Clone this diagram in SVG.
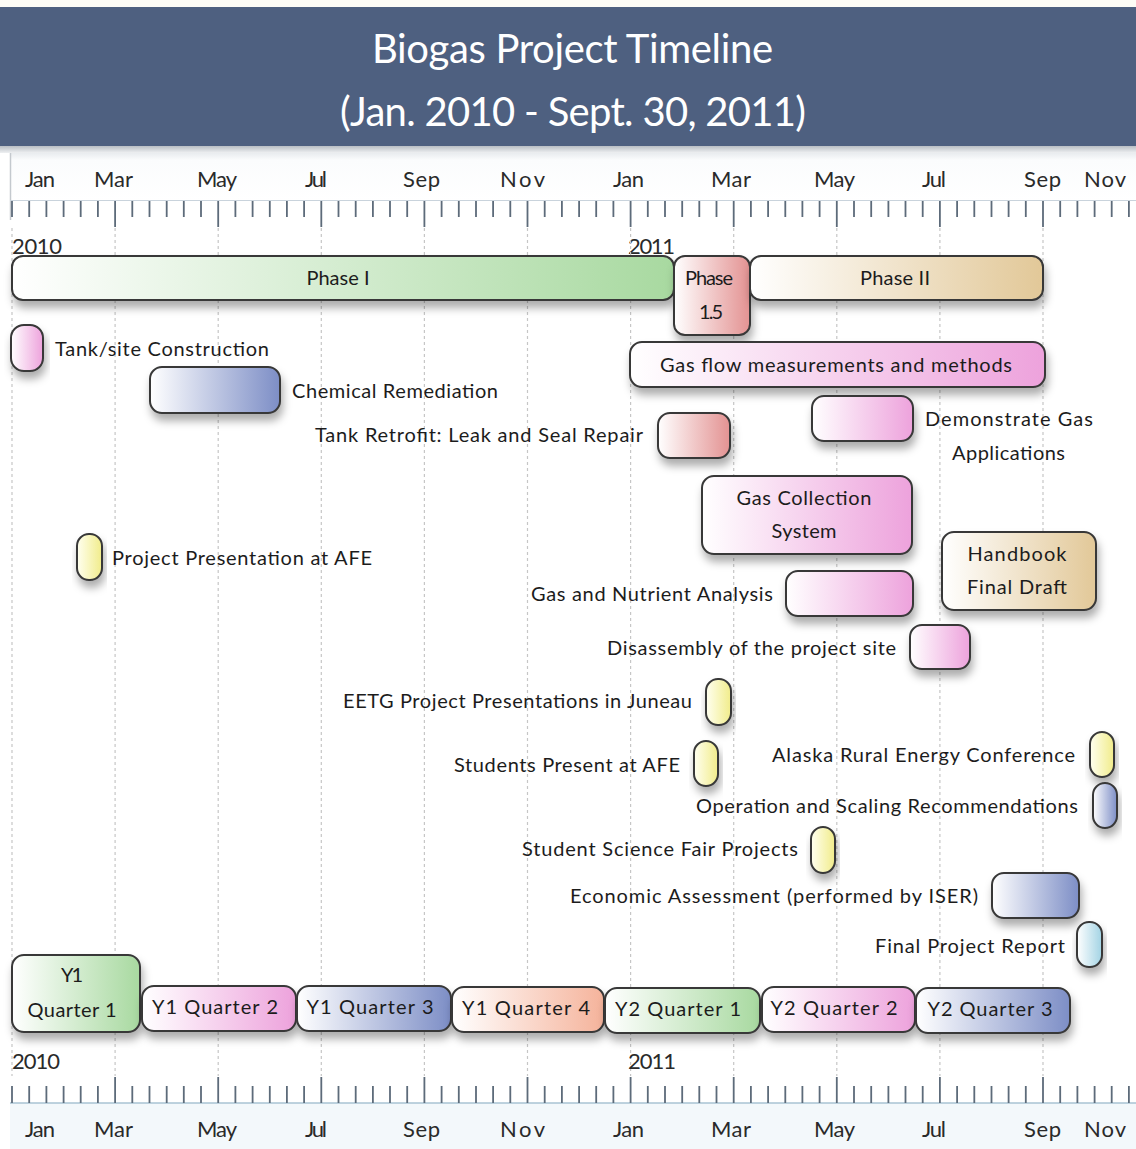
<svg xmlns="http://www.w3.org/2000/svg" width="1136" height="1149" viewBox="0 0 1136 1149">
<defs>
<style>
.t{font-family:"Lato","Open Sans","DejaVu Sans",sans-serif;fill:#1c1c1c}
.lbl{font-size:20px}
.mon{font-size:22px;fill:#2a2a2a}
.ttl{font-size:40px;fill:#ffffff}
.box{stroke:#383838;stroke-width:2;filter:url(#sh)}
.grid{stroke:#c6c6c6;stroke-width:1.2;stroke-dasharray:3 3;fill:none}
.tick{stroke:#5d6b7a;stroke-width:1.8;fill:none}
</style>
<filter id="sh" x="-20%" y="-30%" width="140%" height="190%">
<feDropShadow dx="2" dy="7" stdDeviation="4.5" flood-color="#000" flood-opacity="0.32"/>
</filter>
<linearGradient id="gGreen" x1="0" y1="0" x2="1" y2="0"><stop offset="0" stop-color="#fff"/><stop offset="1" stop-color="#a8d9a0"/></linearGradient>
<linearGradient id="gPink" x1="0" y1="0" x2="1" y2="0"><stop offset="0" stop-color="#fff"/><stop offset="1" stop-color="#eda2dc"/></linearGradient>
<linearGradient id="gBlue" x1="0" y1="0" x2="1" y2="0"><stop offset="0" stop-color="#fff"/><stop offset="1" stop-color="#7d8ec6"/></linearGradient>
<linearGradient id="gRed" x1="0" y1="0" x2="1" y2="0"><stop offset="0" stop-color="#fff"/><stop offset="1" stop-color="#e39292"/></linearGradient>
<linearGradient id="gTan" x1="0" y1="0" x2="1" y2="0"><stop offset="0" stop-color="#fff"/><stop offset="1" stop-color="#e2c898"/></linearGradient>
<linearGradient id="gYellow" x1="0" y1="0" x2="1" y2="0"><stop offset="0" stop-color="#fffff0"/><stop offset="1" stop-color="#f1ec8a"/></linearGradient>
<linearGradient id="gPeach" x1="0" y1="0" x2="1" y2="0"><stop offset="0" stop-color="#fff"/><stop offset="1" stop-color="#f5b39b"/></linearGradient>
<linearGradient id="gCyan" x1="0" y1="0" x2="1" y2="0"><stop offset="0" stop-color="#fff"/><stop offset="1" stop-color="#a2d3e4"/></linearGradient>
<linearGradient id="gTopBand" x1="0" y1="0" x2="0" y2="1"><stop offset="0" stop-color="#e9ecef"/><stop offset="0.15" stop-color="#fbfcfd"/><stop offset="1" stop-color="#ffffff"/></linearGradient>
<linearGradient id="gUnder" x1="0" y1="0" x2="0" y2="1"><stop offset="0" stop-color="#b9bec4"/><stop offset="1" stop-color="#eef0f2"/></linearGradient>
</defs>

<rect x="0" y="0" width="1136" height="1149" fill="#ffffff"/>

<g id="title">
<rect x="0" y="0" width="1136" height="7" fill="#fdfcf6"/>
<rect x="0" y="7" width="1136" height="139" fill="#4e6080"/>
<rect x="0" y="146" width="1136" height="7" fill="url(#gUnder)"/>
<text class="t ttl" x="372" y="63" textLength="401">Biogas Project Timeline</text>
<text class="t ttl" x="340" y="126" textLength="466">(Jan. 2010 - Sept. 30, 2011)</text>
</g>

<g id="top-ruler">
<rect x="10" y="153" width="1126" height="48" fill="url(#gTopBand)"/>
<line x1="10.5" y1="153" x2="10.5" y2="220" stroke="#c4c9ce" stroke-width="1.5"/>
<line x1="10" y1="200.5" x2="1136" y2="200.5" stroke="#c9d3dc" stroke-width="1"/>
<path class="tick" d="M12 201V217M29.2 201V217M46.4 201V217M63.6 201V217M80.7 201V217M97.9 201V217M115.1 201V227M132.3 201V217M149.5 201V217M166.7 201V217M183.8 201V217M201 201V217M218.2 201V227M235.4 201V217M252.6 201V217M269.8 201V217M286.9 201V217M304.1 201V217M321.3 201V227M338.5 201V217M355.7 201V217M372.9 201V217M390 201V217M407.2 201V217M424.4 201V227M441.6 201V217M458.8 201V217M476 201V217M493.1 201V217M510.3 201V217M527.5 201V227M544.7 201V217M561.9 201V217M579.1 201V217M596.2 201V217M613.4 201V217M630.6 201V227M647.8 201V217M665 201V217M682.2 201V217M699.3 201V217M716.5 201V217M733.7 201V227M750.9 201V217M768.1 201V217M785.3 201V217M802.4 201V217M819.6 201V217M836.8 201V227M854 201V217M871.2 201V217M888.4 201V217M905.5 201V217M922.7 201V217M939.9 201V227M957.1 201V217M974.3 201V217M991.5 201V217M1008.6 201V217M1025.8 201V217M1043 201V227M1060.2 201V217M1077.4 201V217M1094.6 201V217M1111.7 201V217M1128.9 201V217"/>
<text class="t mon" x="25" y="187" textLength="30">Jan</text>
<text class="t mon" x="94" y="187" textLength="39">Mar</text>
<text class="t mon" x="197" y="187" textLength="40">May</text>
<text class="t mon" x="305" y="187" textLength="22">Jul</text>
<text class="t mon" x="403" y="187" textLength="37">Sep</text>
<text class="t mon" x="500" y="187" textLength="45">Nov</text>
<text class="t mon" x="613" y="187" textLength="31">Jan</text>
<text class="t mon" x="711" y="187" textLength="40">Mar</text>
<text class="t mon" x="814" y="187" textLength="41">May</text>
<text class="t mon" x="922" y="187" textLength="24">Jul</text>
<text class="t mon" x="1024" y="187" textLength="37">Sep</text>
<text class="t mon" x="1084" y="187" textLength="42">Nov</text>
<text class="t mon" x="12" y="254" textLength="50">2010</text>
<text class="t mon" x="628" y="254" textLength="47">2011</text>
</g>

<g id="gridlines">
<path class="grid" d="M12 228V1076M115.1 228V1076M218.2 228V1076M321.3 228V1076M424.4 228V1076M527.5 228V1076M630.6 228V1076M733.7 228V1076M836.8 228V1076M939.9 228V1076M1043 228V1076"/>
</g>

<g id="connectors"></g>

<g id="phase-1">
<rect class="box" x="12" y="256" width="662" height="44" rx="11" fill="url(#gGreen)"/>
<text class="t lbl" x="338" y="285" text-anchor="middle" textLength="63">Phase I</text>
</g>
<g id="phase-1-5">
<rect class="box" x="674" y="256" width="76" height="79" rx="11" fill="url(#gRed)"/>
<text class="t lbl" x="709" y="285" text-anchor="middle" textLength="48">Phase</text>
<text class="t lbl" x="711" y="319" text-anchor="middle" textLength="24">1.5</text>
</g>
<g id="phase-2">
<rect class="box" x="750" y="256" width="293" height="44" rx="11" fill="url(#gTan)"/>
<text class="t lbl" x="895" y="285" text-anchor="middle" textLength="70">Phase II</text>
</g>

<g id="tank-site-construction">
<rect class="box" x="11" y="325" width="32" height="46" rx="13" fill="url(#gPink)"/>
<text class="t lbl" x="55" y="356" textLength="214">Tank/site Construction</text>
</g>
<g id="chemical-remediation">
<rect class="box" x="150" y="367" width="130" height="46" rx="12" fill="url(#gBlue)"/>
<text class="t lbl" x="292" y="398" textLength="206">Chemical Remediation</text>
</g>
<g id="gas-flow">
<rect class="box" x="630" y="342" width="415" height="45" rx="12" fill="url(#gPink)"/>
<text class="t lbl" x="836" y="372" text-anchor="middle" textLength="352">Gas flow measurements and methods</text>
</g>
<g id="tank-retrofit">
<rect class="box" x="658" y="413" width="72" height="45" rx="12" fill="url(#gRed)"/>
<text class="t lbl" x="643" y="442" text-anchor="end" textLength="328">Tank Retrofit: Leak and Seal Repair</text>
</g>
<g id="demonstrate-gas">
<rect class="box" x="812" y="396" width="101" height="45" rx="12" fill="url(#gPink)"/>
<text class="t lbl" x="925" y="426" textLength="168">Demonstrate Gas</text>
<text class="t lbl" x="952" y="460" textLength="113">Applications</text>
</g>
<g id="gas-collection">
<rect class="box" x="702" y="476" width="210" height="78" rx="12" fill="url(#gPink)"/>
<text class="t lbl" x="804" y="505" text-anchor="middle" textLength="135">Gas Collection</text>
<text class="t lbl" x="804" y="538" text-anchor="middle" textLength="65">System</text>
</g>
<g id="handbook">
<rect class="box" x="942" y="532" width="154" height="78" rx="12" fill="url(#gTan)"/>
<text class="t lbl" x="1017" y="561" text-anchor="middle" textLength="99">Handbook</text>
<text class="t lbl" x="1017" y="594" text-anchor="middle" textLength="100">Final Draft</text>
</g>
<g id="project-presentation-afe">
<rect class="box" x="77" y="534" width="25" height="46" rx="12" fill="url(#gYellow)"/>
<text class="t lbl" x="112" y="565" textLength="260">Project Presentation at AFE</text>
</g>
<g id="gas-nutrient-analysis">
<rect class="box" x="786" y="571" width="127" height="45" rx="12" fill="url(#gPink)"/>
<text class="t lbl" x="773" y="601" text-anchor="end" textLength="242">Gas and Nutrient Analysis</text>
</g>
<g id="disassembly">
<rect class="box" x="910" y="625" width="60" height="44" rx="12" fill="url(#gPink)"/>
<text class="t lbl" x="896" y="655" text-anchor="end" textLength="289">Disassembly of the project site</text>
</g>
<g id="eetg-presentations">
<rect class="box" x="706" y="679" width="25" height="46" rx="12" fill="url(#gYellow)"/>
<text class="t lbl" x="692" y="708" text-anchor="end" textLength="349">EETG Project Presentations in Juneau</text>
</g>
<g id="alaska-rural-energy">
<rect class="box" x="1090" y="732" width="24" height="45" rx="12" fill="url(#gYellow)"/>
<text class="t lbl" x="1075" y="762" text-anchor="end" textLength="303">Alaska Rural Energy Conference</text>
</g>
<g id="students-present-afe">
<rect class="box" x="694" y="741" width="24" height="45" rx="12" fill="url(#gYellow)"/>
<text class="t lbl" x="680" y="772" text-anchor="end" textLength="226">Students Present at AFE</text>
</g>
<g id="operation-scaling">
<rect class="box" x="1093" y="783" width="24" height="45" rx="12" fill="url(#gBlue)"/>
<text class="t lbl" x="1078" y="813" text-anchor="end" textLength="382">Operation and Scaling Recommendations</text>
</g>
<g id="student-science-fair">
<rect class="box" x="811" y="827" width="24" height="46" rx="12" fill="url(#gYellow)"/>
<text class="t lbl" x="798" y="856" text-anchor="end" textLength="276">Student Science Fair Projects</text>
</g>
<g id="economic-assessment">
<rect class="box" x="992" y="873" width="87" height="45" rx="12" fill="url(#gBlue)"/>
<text class="t lbl" x="978" y="903" text-anchor="end" textLength="408">Economic Assessment (performed by ISER)</text>
</g>
<g id="final-project-report">
<rect class="box" x="1077" y="922" width="25" height="45" rx="12" fill="url(#gCyan)"/>
<text class="t lbl" x="1065" y="953" text-anchor="end" textLength="190">Final Project Report</text>
</g>

<g id="y1-q1">
<rect class="box" x="12" y="955" width="128" height="77" rx="12" fill="url(#gGreen)"/>
<text class="t lbl" x="72" y="982" text-anchor="middle" textLength="22">Y1</text>
<text class="t lbl" x="72" y="1017" text-anchor="middle" textLength="89">Quarter 1</text>
</g>
<g id="y1-q2">
<rect class="box" x="142" y="986" width="154" height="45" rx="12" fill="url(#gPink)"/>
<text class="t lbl" x="215" y="1014" text-anchor="middle" textLength="126">Y1 Quarter 2</text>
</g>
<g id="y1-q3">
<rect class="box" x="297" y="986" width="154" height="45" rx="12" fill="url(#gBlue)"/>
<text class="t lbl" x="370" y="1014" text-anchor="middle" textLength="127">Y1 Quarter 3</text>
</g>
<g id="y1-q4">
<rect class="box" x="452" y="987" width="152" height="45" rx="12" fill="url(#gPeach)"/>
<text class="t lbl" x="526" y="1015" text-anchor="middle" textLength="128">Y1 Quarter 4</text>
</g>
<g id="y2-q1">
<rect class="box" x="605" y="988" width="155" height="45" rx="12" fill="url(#gGreen)"/>
<text class="t lbl" x="678" y="1016" text-anchor="middle" textLength="126">Y2 Quarter 1</text>
</g>
<g id="y2-q2">
<rect class="box" x="762" y="987" width="153" height="45" rx="12" fill="url(#gPink)"/>
<text class="t lbl" x="834" y="1015" text-anchor="middle" textLength="127">Y2 Quarter 2</text>
</g>
<g id="y2-q3">
<rect class="box" x="916" y="988" width="154" height="45" rx="12" fill="url(#gBlue)"/>
<text class="t lbl" x="990" y="1016" text-anchor="middle" textLength="125">Y2 Quarter 3</text>
</g>

<g id="bottom-ruler">
<text class="t mon" x="12" y="1069" textLength="48">2010</text>
<text class="t mon" x="628" y="1069" textLength="48">2011</text>
<rect x="10" y="1103" width="1126" height="46" fill="#f3f8fb"/>
<line x1="10" y1="1103" x2="1136" y2="1103" stroke="#a9c3d3" stroke-width="1.5"/>
<path class="tick" d="M12 1086V1103M29.2 1086V1103M46.4 1086V1103M63.6 1086V1103M80.7 1086V1103M97.9 1086V1103M115.1 1077V1103M132.3 1086V1103M149.5 1086V1103M166.7 1086V1103M183.8 1086V1103M201 1086V1103M218.2 1077V1103M235.4 1086V1103M252.6 1086V1103M269.8 1086V1103M286.9 1086V1103M304.1 1086V1103M321.3 1077V1103M338.5 1086V1103M355.7 1086V1103M372.9 1086V1103M390 1086V1103M407.2 1086V1103M424.4 1077V1103M441.6 1086V1103M458.8 1086V1103M476 1086V1103M493.1 1086V1103M510.3 1086V1103M527.5 1077V1103M544.7 1086V1103M561.9 1086V1103M579.1 1086V1103M596.2 1086V1103M613.4 1086V1103M630.6 1077V1103M647.8 1086V1103M665 1086V1103M682.2 1086V1103M699.3 1086V1103M716.5 1086V1103M733.7 1077V1103M750.9 1086V1103M768.1 1086V1103M785.3 1086V1103M802.4 1086V1103M819.6 1086V1103M836.8 1077V1103M854 1086V1103M871.2 1086V1103M888.4 1086V1103M905.5 1086V1103M922.7 1086V1103M939.9 1077V1103M957.1 1086V1103M974.3 1086V1103M991.5 1086V1103M1008.6 1086V1103M1025.8 1086V1103M1043 1077V1103M1060.2 1086V1103M1077.4 1086V1103M1094.6 1086V1103M1111.7 1086V1103M1128.9 1086V1103"/>
<text class="t mon" x="25" y="1137" textLength="30">Jan</text>
<text class="t mon" x="94" y="1137" textLength="39">Mar</text>
<text class="t mon" x="197" y="1137" textLength="40">May</text>
<text class="t mon" x="305" y="1137" textLength="22">Jul</text>
<text class="t mon" x="403" y="1137" textLength="37">Sep</text>
<text class="t mon" x="500" y="1137" textLength="45">Nov</text>
<text class="t mon" x="613" y="1137" textLength="31">Jan</text>
<text class="t mon" x="711" y="1137" textLength="40">Mar</text>
<text class="t mon" x="814" y="1137" textLength="41">May</text>
<text class="t mon" x="922" y="1137" textLength="24">Jul</text>
<text class="t mon" x="1024" y="1137" textLength="37">Sep</text>
<text class="t mon" x="1084" y="1137" textLength="42">Nov</text>
</g>
</svg>
